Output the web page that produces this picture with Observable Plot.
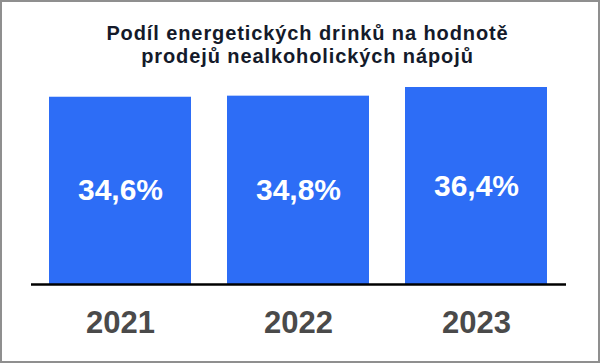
<!DOCTYPE html>
<html>
<head>
<meta charset="utf-8">
<script src="https://cdn.jsdelivr.net/npm/d3@7"></script>
<script src="https://cdn.jsdelivr.net/npm/@observablehq/plot@0.6"></script>
<style>
  body { margin: 0; background: #fff; }
  #wrap { position: relative; width: 600px; height: 363px; overflow: hidden; background: #fff;
          font-family: "Liberation Sans", Arial, sans-serif; }
  #frame { position: absolute; left: 0; top: 0; width: 600px; height: 363px; box-sizing: border-box;
           border: 2px solid #8f8f8f; pointer-events: none; }
  #title { height: 80px; box-sizing: border-box; padding-top: 22px; padding-left: 15px;
           text-align: center; font-weight: bold; font-size: 20px; line-height: 23px;
           letter-spacing: 0.9px; color: #141a2a; }
  #chart svg { display: block; }
</style>
</head>
<body>
<div id="wrap">
  <div id="title">Podíl energetických drinků na hodnotě<br>prodejů nealkoholických nápojů</div>
  <div id="chart"></div>
  <div id="frame"></div>
</div>
<script>
const years = ["2021", "2022", "2023"];
const shares = [34.6, 34.8, 36.4];

const data = years.map((year, i) => ({ year, share: shares[i] }));
const fmt = v => v.toFixed(1).replace(".", ",") + "%";

const chart = Plot.plot({
  width: 600,
  height: 283,
  marginLeft: 31,
  marginRight: 34,
  marginTop: 7,
  marginBottom: 79,
  style: { fontFamily: "\"Liberation Sans\", Arial, sans-serif", background: "#fff", overflow: "visible" },
  x: { domain: years, paddingInner: 0.2, paddingOuter: 0.1, label: null },
  y: { domain: [0, 36.4], axis: null },
  marks: [
    Plot.barY(data, { x: "year", y: "share", fill: "#2d6df6" }),
    Plot.ruleY([0], { stroke: "#000", strokeWidth: 2.5 }),
    Plot.text(data, { x: "year", y: d => d.share / 2, text: d => fmt(d.share),
      fill: "#fff", fontSize: 30, fontWeight: "bold", textAnchor: "middle", lineAnchor: "middle" }),
    Plot.axisX({ tickSize: 0, tickPadding: 26, fontSize: 31, fontWeight: "bold", fill: "#4a4a4a", label: null })
  ]
});
document.getElementById("chart").appendChild(chart);
</script>
</body>
</html>
